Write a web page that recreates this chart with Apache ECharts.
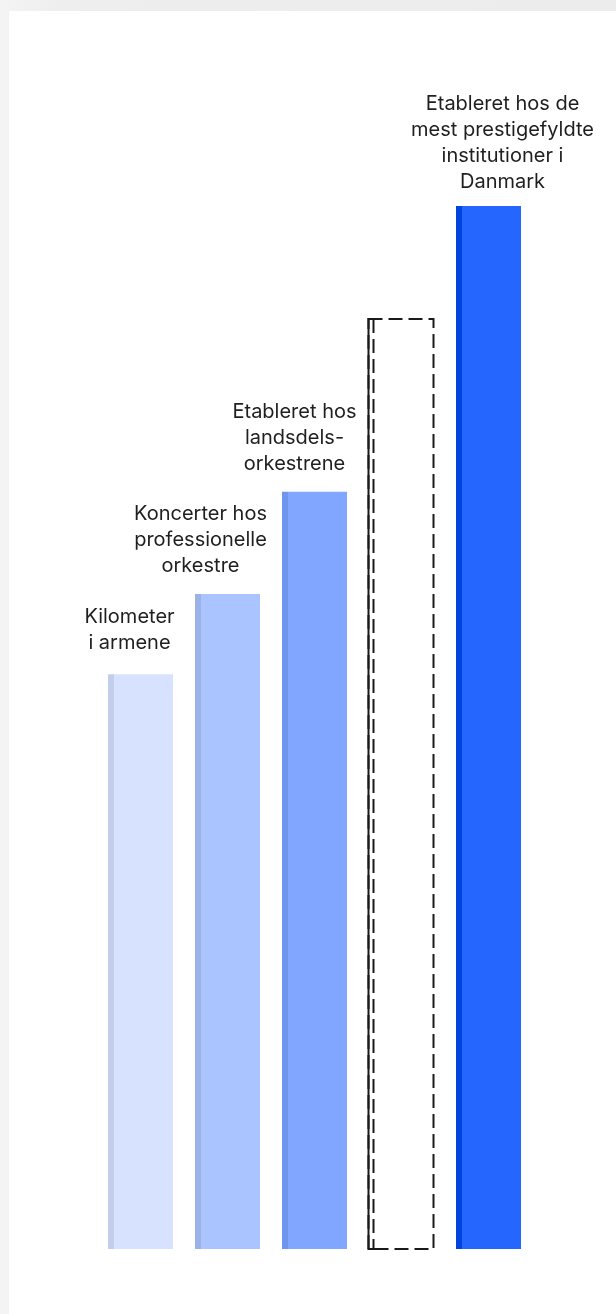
<!DOCTYPE html>
<html>
<head>
<meta charset="utf-8">
<script src="https://cdn.jsdelivr.net/npm/echarts@6/dist/echarts.min.js"></script>
<style>
  html, body { margin: 0; padding: 0; width: 616px; height: 1314px; overflow: hidden;
    background: linear-gradient(to right, #f4f4f4 0px, #eeeeee 60px, #ececec 100%); }
  #card { position: absolute; left: 9px; top: 11px; right: 0; bottom: 0; background: #ffffff; }
  #chart { position: absolute; left: 0; top: 0; width: 616px; height: 1314px; }
</style>
</head>
<body>
<div id="card"></div>
<div id="chart"></div>
<script>
// Career steps, from first kilometres to the top institutions
const categories = [
  'Kilometer\ni armene',
  'Koncerter hos\nprofessionelle\norkestre',
  'Etableret hos\nlandsdels-\norkestrene',
  '',
  'Etableret hos de\nmest prestigefyldte\ninstitutioner i\nDanmark'
];
const levels = [55.1, 62.8, 72.6, null, 100];
// The open step, drawn as a dashed outline
const openStepIndex = 3;
const openStepLevel = 89.2;

const fillColors   = ['#d6e2ff', '#aac4ff', '#80a6ff', null, '#2566ff'];
const stripeColors = ['#c2ceea', '#9bb2e6', '#6e96ec', null, '#0044e0'];
const labelOffsets = [[-11, -3], [-27, 0], [-20, 0], [0, 0], [14, 4]];

const BAR_W = 65;
const STRIPE = 6 / BAR_W;

function stripeFill(i) {
  return new echarts.graphic.LinearGradient(0, 0, 1, 0, [
    { offset: 0, color: stripeColors[i] },
    { offset: STRIPE, color: stripeColors[i] },
    { offset: STRIPE, color: fillColors[i] },
    { offset: 1, color: fillColors[i] }
  ]);
}

const barData = levels.map((v, i) => v == null ? '-' : {
  value: v,
  itemStyle: { color: stripeFill(i) },
  label: { offset: labelOffsets[i] }
});

const chart = echarts.init(document.getElementById('chart'), null, { renderer: 'canvas' });
chart.setOption({
  backgroundColor: 'transparent',
  animation: false,
  grid: { left: 97, right: 84, top: 206, bottom: 65 },
  xAxis: {
    type: 'category', data: categories, show: false,
    axisTick: { show: false }, axisLine: { show: false }
  },
  yAxis: { type: 'value', min: 0, max: 100, show: false, splitLine: { show: false } },
  series: [
    {
      type: 'bar',
      data: barData,
      barWidth: BAR_W,
      label: {
        show: true,
        position: 'top',
        distance: 15,
        formatter: p => categories[p.dataIndex],
        color: '#1f1f1f',
        fontFamily: 'Inter, "DejaVu Sans", sans-serif',
        fontSize: 20,
        lineHeight: 26,
        align: 'center'
      }
    },
    {
      type: 'custom',
      data: [[openStepIndex, openStepLevel]],
      renderItem: function (params, api) {
        const top = api.coord([api.value(0), api.value(1)]);
        const base = api.coord([api.value(0), 0]);
        const x0 = Math.round(top[0] - BAR_W / 2) - 0.5;
        const y0 = Math.round(top[1]);
        const y1 = Math.round(base[1]);
        const w = BAR_W;
        const stroke = '#1a1a1a';
        return {
          type: 'group',
          children: [
            {
              type: 'rect',
              shape: { x: x0, y: y0, width: w, height: y1 - y0 },
              style: { fill: null, stroke: stroke, lineWidth: 2, lineDash: [14, 6] }
            },
            {
              type: 'line',
              shape: { x1: x0 + 5, y1: y0, x2: x0 + 5, y2: y1 },
              style: { stroke: stroke, lineWidth: 2, lineDash: [14, 6] }
            },
            {
              type: 'polyline',
              shape: { points: [[x0 + 5, y0], [x0, y0], [x0, y1], [x0 + 8, y1]] },
              style: { stroke: stroke, lineWidth: 2, fill: null }
            }
          ]
        };
      }
    }
  ]
});
</script>
</body>
</html>
